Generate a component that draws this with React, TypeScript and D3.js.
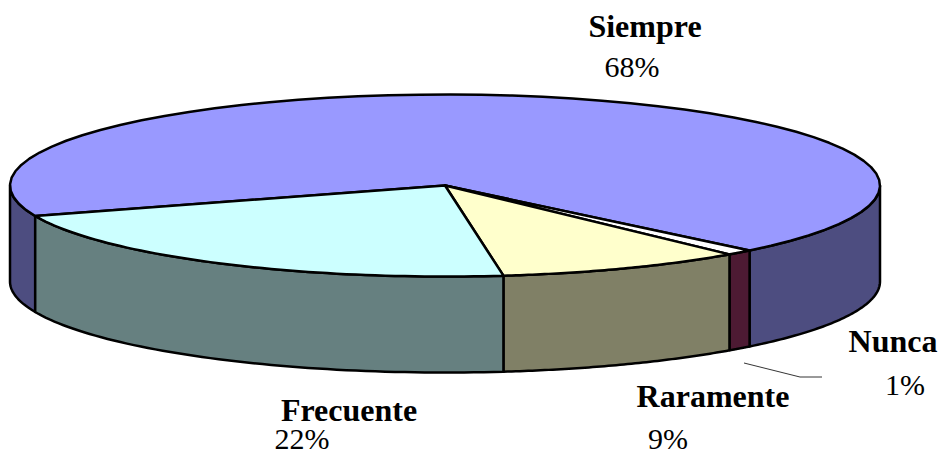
import React from "react";
import * as D3 from "d3";

const categories = ["Siempre", "Nunca", "Raramente", "Frecuente"];
const shares = [68.1, 1.0, 9.2, 21.7];
const percentLabels = ["68%", "1%", "9%", "22%"];
const topColors = ["#9999FF", "#FFFFFF", "#FFFFCC", "#CCFFFF"];
const sideColors = ["#4D4D80", "#4D1A33", "#808066", "#668080"];

const cx = 445, cy = 185.5, rx = 435, ry = 91, depth = 96;
const labelPos = [
  { name: [645, 37], pct: [632, 77] },
  { name: [893, 352], pct: [905, 395] },
  { name: [713, 407], pct: [668, 449] },
  { name: [349, 421], pct: [302, 449] },
];

const deg = Math.PI / 180;
const px = (t: number) => cx + rx * Math.cos(t);
const py = (t: number) => cy + ry * Math.sin(t);

const arcPoints = (a: number, b: number) =>
  D3.range(0, 61).map((i) => {
    const t = a + ((b - a) * i) / 60;
    return [px(t), py(t)] as [number, number];
  });

const line = D3.line();

const pie = D3.pie<number>()
  .sort(null)
  .startAngle(160.4 * deg)
  .endAngle(520.4 * deg);

export default function App() {
  const arcs = pie(shares);
  const walls: { d: string; fill: string; key: string }[] = [];
  arcs.forEach((s, i) => {
    [0, 2 * Math.PI].forEach((off, k) => {
      const a = Math.max(s.startAngle, off);
      const b = Math.min(s.endAngle, off + Math.PI);
      if (b <= a) return;
      const top = arcPoints(a, b);
      const bottom = top.map(([x, y]) => [x, y + depth] as [number, number]).reverse();
      walls.push({
        d: line([...top, ...bottom])! + "Z",
        fill: sideColors[i],
        key: `${i}-${k}`,
      });
    });
  });
  return (
    <svg
      width={939}
      height={454}
      style={{ position: "absolute", left: 0, top: 0, background: "#fff" }}
      fontFamily="'Liberation Serif', 'Times New Roman', serif"
      textAnchor="middle"
    >
      {walls.map((w) => (
        <path key={w.key} d={w.d} fill={w.fill} stroke="#000" strokeWidth={2.5} strokeLinejoin="round" />
      ))}
      {arcs.map((s, i) => (
        <path
          key={categories[i]}
          d={line([[cx, cy], ...arcPoints(s.startAngle, s.endAngle)])! + "Z"}
          fill={topColors[i]}
          stroke="#000"
          strokeWidth={2.5}
          strokeLinejoin="round"
        />
      ))}
      <polyline points="744,363 800,377 822,377" fill="none" stroke="#000" strokeWidth={0.8} />
      {categories.map((c, i) => (
        <g key={c}>
          <text x={labelPos[i].name[0]} y={labelPos[i].name[1]} fontWeight="bold" fontSize={32}>{c}</text>
          <text x={labelPos[i].pct[0]} y={labelPos[i].pct[1]} fontSize={30}>{percentLabels[i]}</text>
        </g>
      ))}
    </svg>
  );
}
